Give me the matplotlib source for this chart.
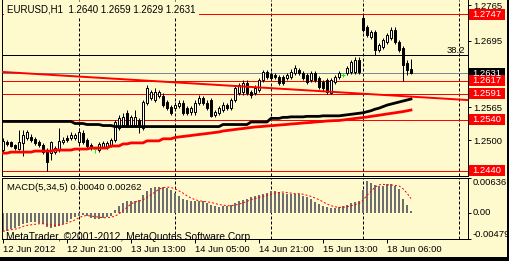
import matplotlib
matplotlib.use("Agg")
import matplotlib.pyplot as plt
from matplotlib.patches import Rectangle

plt.rcParams['font.family'] = ['Liberation Sans', 'DejaVu Sans']

BG = '#FFFACD'
W, H = 509, 261
FS = 6.8
LW = 0.72  # one pixel

# EURUSD H1 candles, bar 0 = 12 Jun 05:00
opens = [1.2481, 1.2497, 1.2497, 1.2491, 1.2483, 1.2495, 1.2505, 1.2507, 1.2503, 1.2497,
         1.2491, 1.2481, 1.2475, 1.2477, 1.2481, 1.2497, 1.2505, 1.2505, 1.2505, 1.2497,
         1.2514, 1.2501, 1.2491, 1.2483, 1.2481, 1.2487, 1.2487, 1.2491, 1.2501, 1.2524,
         1.2530, 1.2554, 1.2530, 1.2530, 1.2540, 1.2524, 1.2573, 1.2583, 1.2579, 1.2587,
         1.2587, 1.2575, 1.2565, 1.2563, 1.2567, 1.2573, 1.2563, 1.2555, 1.2555, 1.2573,
         1.2583, 1.2573, 1.2579, 1.2550, 1.2554, 1.2559, 1.2569, 1.2563, 1.2579, 1.2593,
         1.2595, 1.2612, 1.2595, 1.2593, 1.2599, 1.2618, 1.2634, 1.2630, 1.2628, 1.2624,
         1.2624, 1.2622, 1.2624, 1.2632, 1.2638, 1.2632, 1.2628, 1.2618, 1.2632, 1.2622,
         1.2614, 1.2618, 1.2593, 1.2614, 1.2624, 1.2628, 1.2632, 1.2634, 1.2634, 1.2657,
         1.2740, 1.2722, 1.2702, 1.2712, 1.2677, 1.2683, 1.2693, 1.2700, 1.2716, 1.2693,
         1.2681, 1.2651, 1.2640]
highs = [1.2505, 1.2501, 1.2499, 1.2493, 1.2520, 1.2520, 1.2520, 1.2512, 1.2507, 1.2501,
         1.2495, 1.2485, 1.2499, 1.2489, 1.2524, 1.2507, 1.2510, 1.2516, 1.2514, 1.2524,
         1.2520, 1.2505, 1.2495, 1.2487, 1.2497, 1.2499, 1.2499, 1.2505, 1.2540, 1.2550,
         1.2554, 1.2559, 1.2550, 1.2559, 1.2544, 1.2579, 1.2608, 1.2599, 1.2603, 1.2599,
         1.2593, 1.2579, 1.2569, 1.2575, 1.2579, 1.2579, 1.2567, 1.2567, 1.2579, 1.2589,
         1.2587, 1.2579, 1.2583, 1.2559, 1.2567, 1.2575, 1.2573, 1.2583, 1.2608, 1.2612,
         1.2618, 1.2618, 1.2599, 1.2608, 1.2622, 1.2638, 1.2638, 1.2634, 1.2632, 1.2628,
         1.2628, 1.2632, 1.2640, 1.2648, 1.2642, 1.2636, 1.2632, 1.2636, 1.2636, 1.2626,
         1.2618, 1.2622, 1.2622, 1.2628, 1.2636, 1.2632, 1.2646, 1.2657, 1.2663, 1.2663,
         1.2747, 1.2726, 1.2716, 1.2716, 1.2691, 1.2700, 1.2710, 1.2722, 1.2722, 1.2697,
         1.2685, 1.2657, 1.2659]
lows = [1.2477, 1.2489, 1.2487, 1.2481, 1.2481, 1.2469, 1.2501, 1.2497, 1.2491, 1.2487,
        1.2473, 1.2440, 1.2462, 1.2473, 1.2477, 1.2493, 1.2497, 1.2501, 1.2501, 1.2493,
        1.2493, 1.2485, 1.2481, 1.2475, 1.2477, 1.2485, 1.2483, 1.2487, 1.2497, 1.2520,
        1.2526, 1.2526, 1.2526, 1.2526, 1.2514, 1.2520, 1.2569, 1.2579, 1.2575, 1.2583,
        1.2565, 1.2559, 1.2550, 1.2559, 1.2563, 1.2550, 1.2550, 1.2550, 1.2550, 1.2569,
        1.2569, 1.2559, 1.2546, 1.2546, 1.2550, 1.2555, 1.2559, 1.2559, 1.2575, 1.2589,
        1.2589, 1.2589, 1.2583, 1.2589, 1.2595, 1.2614, 1.2620, 1.2618, 1.2620, 1.2608,
        1.2608, 1.2618, 1.2620, 1.2628, 1.2628, 1.2618, 1.2610, 1.2614, 1.2614, 1.2600,
        1.2597, 1.2591, 1.2591, 1.2610, 1.2620, 1.2624, 1.2628, 1.2630, 1.2630, 1.2630,
        1.2712, 1.2702, 1.2698, 1.2667, 1.2673, 1.2679, 1.2689, 1.2696, 1.2689, 1.2673,
        1.2617, 1.2628, 1.2629]
closes = [1.2499, 1.2493, 1.2489, 1.2485, 1.2497, 1.2510, 1.2516, 1.2501, 1.2495, 1.2491,
          1.2477, 1.2458, 1.2497, 1.2485, 1.2499, 1.2501, 1.2501, 1.2510, 1.2510, 1.2516,
          1.2497, 1.2489, 1.2485, 1.2483, 1.2493, 1.2495, 1.2495, 1.2501, 1.2536, 1.2544,
          1.2546, 1.2530, 1.2546, 1.2546, 1.2526, 1.2575, 1.2603, 1.2595, 1.2595, 1.2595,
          1.2569, 1.2563, 1.2554, 1.2569, 1.2573, 1.2554, 1.2554, 1.2563, 1.2573, 1.2583,
          1.2573, 1.2563, 1.2548, 1.2555, 1.2563, 1.2569, 1.2563, 1.2579, 1.2603, 1.2608,
          1.2612, 1.2593, 1.2589, 1.2603, 1.2618, 1.2634, 1.2624, 1.2622, 1.2624, 1.2612,
          1.2612, 1.2628, 1.2634, 1.2642, 1.2632, 1.2622, 1.2614, 1.2632, 1.2618, 1.2604,
          1.2603, 1.2595, 1.2618, 1.2624, 1.2632, 1.2628, 1.2642, 1.2653, 1.2657, 1.2634,
          1.2716, 1.2706, 1.2712, 1.2677, 1.2687, 1.2696, 1.2706, 1.2716, 1.2693, 1.2677,
          1.2648, 1.2638, 1.2631]

# moving averages (black = slow, red = fast)
ma_slow = [1.2537, 1.2537, 1.2537, 1.2537, 1.2537, 1.2537, 1.2537, 1.2537, 1.2537, 1.2537,
           1.2537, 1.2537, 1.2537, 1.2537, 1.2537, 1.2537, 1.2537, 1.2537, 1.2533, 1.2533,
           1.2533, 1.2531, 1.2531, 1.2531, 1.2531, 1.2529, 1.2529, 1.2529, 1.2527, 1.2527,
           1.2527, 1.2527, 1.2527, 1.2527, 1.2527, 1.2527, 1.2527, 1.2527, 1.2527, 1.2527,
           1.2527, 1.2527, 1.2527, 1.2527, 1.2527, 1.2527, 1.2527, 1.2527, 1.2527, 1.2527,
           1.2527, 1.2527, 1.2527, 1.2527, 1.2527, 1.2531, 1.2531, 1.2531, 1.2531, 1.2531,
           1.2531, 1.2531, 1.2536, 1.2536, 1.2536, 1.2536, 1.2536, 1.2543, 1.2543, 1.2543,
           1.2545, 1.2545, 1.2546, 1.2546, 1.2546, 1.2546, 1.2547, 1.2547, 1.2547, 1.2547,
           1.2548, 1.2548, 1.2548, 1.2548, 1.2548, 1.2549, 1.2550, 1.2551, 1.2552, 1.2553,
           1.2554, 1.2556, 1.2558, 1.2561, 1.2563, 1.2566, 1.2569, 1.2571, 1.2573, 1.2575,
           1.2577, 1.2579, 1.2581]
ma_fast = [1.2475, 1.2475, 1.2477, 1.2477, 1.2477, 1.2477, 1.2477, 1.2477, 1.2479, 1.2479,
           1.2479, 1.2479, 1.2479, 1.2481, 1.2481, 1.2481, 1.2481, 1.2481, 1.2483, 1.2483,
           1.2483, 1.2483, 1.2485, 1.2485, 1.2485, 1.2485, 1.2485, 1.2489, 1.2489, 1.2489,
           1.2493, 1.2493, 1.2495, 1.2495, 1.2495, 1.2495, 1.2499, 1.2499, 1.2499, 1.2499,
           1.2503, 1.2503, 1.2503, 1.25056, 1.25066, 1.25076, 1.25085, 1.25095, 1.25105, 1.25115,
           1.25124, 1.25134, 1.25144, 1.25154, 1.25164, 1.25183, 1.25193, 1.25203, 1.25213, 1.25223,
           1.25232, 1.25242, 1.25252, 1.25262, 1.25267, 1.25273, 1.25281, 1.25287, 1.25293, 1.25300,
           1.25306, 1.25312, 1.25320, 1.25326, 1.25332, 1.25340, 1.25345, 1.25351, 1.25359, 1.25365,
           1.25371, 1.25379, 1.25383, 1.25387, 1.25389, 1.25398, 1.25408, 1.25418, 1.25428, 1.25437,
           1.25447, 1.25457, 1.25469, 1.25481, 1.25492, 1.25504, 1.25516, 1.25528, 1.25539, 1.25551,
           1.25563, 1.25578, 1.25594]

# MACD(5,34,5) in units of 0.0001
macd_main = [-34, -33, -30, -27, -24, -20, -18, -17, -17, -18,
             -21, -26, -27, -26, -24, -20, -16, -12, -8, -5,
             -4, -6, -9, -11, -11, -10, -8, -6, 6, 12,
             18, 21, 21, 21, 24, 33, 39, 45, 48, 48,
             48, 45, 42, 36, 30, 26, 23, 21, 21, 21,
             21, 18, 15, 12, 11, 12, 13, 15, 18, 21,
             23, 26, 28, 30, 32, 34, 37, 39, 39, 38,
             36, 35, 35, 35, 34, 31, 28, 25, 20, 16,
             13, 10, 9, 9, 11, 13, 15, 17, 19, 21,
             42, 58, 55, 50, 49, 49, 52, 52, 49, 43,
             25, 14, 4]
macd_signal = [-34, -32, -31, -30, -28, -25, -23, -22, -21, -20,
               -20, -21, -22, -23, -22, -21, -19, -16, -13, -9,
               -6, -5, -6, -7, -8, -9, -9, -8, -6, -2,
               4, 10, 16, 20, 21, 24, 28, 33, 38, 43,
               46, 47, 46, 44, 40, 36, 31, 27, 24, 22,
               21, 20, 19, 17, 15, 14, 13, 13, 14, 16,
               18, 21, 24, 26, 28, 30, 32, 34, 36, 37,
               38, 37, 36, 35, 35, 34, 32, 30, 27, 24,
               20, 16, 13, 11, 10, 10, 11, 13, 15, 17,
               23, 32, 39, 47, 51, 52, 51, 51, 50, 49,
               44, 36, 26]

red_levels = [1.2747, 1.2617, 1.2591, 1.2540, 1.2440]
fib_level = 1.2667
bid = 1.2631
trend_x = [-0.25, 116.0]
trend_y = [1.2634, 1.2579]
day_breaks = [19, 43, 67, 90, 114]
price_ticks = [1.2765, 1.2695, 1.2565, 1.2500]
macd_ticks = [0.00636, 0.0, -0.00479]
time_ticks = [0, 16, 32, 48, 64, 80, 96]
time_labels = ['12 Jun 2012', '12 Jun 21:00', '13 Jun 13:00', '14 Jun 05:00',
               '14 Jun 21:00', '15 Jun 13:00', '18 Jun 06:00']

idx = list(range(len(closes)))


def frame(x0, y0, x1, y1):
    return [x0 / W, 1 - y1 / H, (x1 - x0) / W, (y1 - y0) / H]


fig = plt.figure(figsize=(W / 100, H / 100), dpi=100, facecolor=BG)
ax = fig.add_axes(frame(2, 0, 468, 176), facecolor=BG)
ax2 = fig.add_axes(frame(2, 178, 468, 239), facecolor=BG, sharex=ax)

ax.set_xlim(-0.25, 116.25)
ax.set_ylim(1.24302, 1.27748)
ax2.set_ylim(-0.00479, 0.00636)

# candles
up = [i for i in idx if closes[i] > opens[i]]
dn = [i for i in idx if closes[i] < opens[i]]
dj = [i for i in idx if closes[i] == opens[i]]
nd = up + dn
ax.vlines(nd, [lows[i] for i in nd], [highs[i] for i in nd], color='black', lw=LW, zorder=3)
ax.bar(up, [closes[i] - opens[i] for i in up], 0.5, bottom=[opens[i] for i in up],
       color='white', edgecolor='black', lw=LW, zorder=4)
ax.bar(dn, [opens[i] - closes[i] for i in dn], 0.5, bottom=[closes[i] for i in dn],
       color='black', edgecolor='black', lw=LW, zorder=4)
ax.vlines(dj, [lows[i] for i in dj], [highs[i] for i in dj], color='#00FF00', lw=LW, zorder=3)
ax.hlines([closes[i] for i in dj], [i - 0.5 for i in dj], [i + 0.5 for i in dj],
          color='#00FF00', lw=LW, zorder=3)

# indicators and objects
ax.plot(idx, ma_slow, color='black', lw=2.0, zorder=5)
ax.plot(idx, ma_fast, color='red', lw=2.0, zorder=5)
ax.plot(trend_x, trend_y, color='red', lw=1.4, zorder=5)
for lv in red_levels:
    ax.axhline(lv, color='red', lw=LW, zorder=2)
ax.axhline(fib_level, color='black', lw=LW, zorder=2)
ax.axhline(bid, color='#778899', lw=LW, zorder=2)
ax.text(115.5, fib_level, '38.2', ha='right', va='bottom', fontsize=FS, zorder=6)
for d in day_breaks:
    for a in (ax, ax2):
        a.axvline(d, color='black', lw=LW, dashes=(3, 2), zorder=1)

ax.text(0.011, 0.945, 'EURUSD,H1  1.2640 1.2659 1.2629 1.2631', transform=ax.transAxes,
        fontsize=FS + 0.2, va='center', ha='left', zorder=8,
        bbox=dict(boxstyle='square,pad=0.3', fc=BG, ec='none'))

# right axis
ax.yaxis.tick_right()
ax.set_yticks(price_ticks)
ax.set_yticklabels([f'{v:.4f}' for v in price_ticks])
ax.tick_params(axis='y', direction='out', length=2.2, width=LW, pad=1.5, labelsize=FS)
ax.tick_params(axis='x', bottom=False, labelbottom=False)
ax.spines['top'].set_visible(False)
for s in ax.spines.values():
    s.set_linewidth(LW)


def tag(level, text, fc):
    h = 11 * (ax.get_ylim()[1] - ax.get_ylim()[0]) / 176
    ax.add_patch(Rectangle((1.0022, level - h / 2), 0.0773, h, transform=ax.get_yaxis_transform(),
                           fc=fc, ec='none', clip_on=False, zorder=10))
    ax.text(1.0086, level, text, transform=ax.get_yaxis_transform(), color='white',
            fontsize=FS, va='center', ha='left', clip_on=False, zorder=11)


tag(bid, f'{bid:.4f}', 'black')
for lv in red_levels:
    tag(lv, f'{lv:.4f}', 'red')

# MACD panel
ax2.bar(idx, [v * 1e-4 for v in macd_main], 0.72, color='#6E6E6E', zorder=2, antialiased=False)
ax2.plot(idx, [v * 1e-4 for v in macd_signal], color='red', lw=LW, dashes=(2, 2), zorder=3)
ax2.yaxis.tick_right()
ax2.set_yticks(macd_ticks)
ax2.set_yticklabels(['', '', ''])
ax2.tick_params(axis='y', direction='out', length=2.2, width=LW)
ax2.text(1.009, macd_ticks[0], '0.00636', transform=ax2.get_yaxis_transform(), fontsize=FS,
         va='top', ha='left')
ax2.text(1.009, macd_ticks[1], '0.00', transform=ax2.get_yaxis_transform(), fontsize=FS,
         va='center', ha='left')
ax2.text(1.009, macd_ticks[2], '-0.00479', transform=ax2.get_yaxis_transform(), fontsize=FS,
         va='bottom', ha='left')
ax2.set_xticks(time_ticks)
ax2.set_xticklabels(time_labels)
for lb in ax2.get_xticklabels():
    lb.set_ha('left')
ax2.tick_params(axis='x', direction='out', length=2.9, width=LW, pad=1.5, labelsize=FS)
for s in ax2.spines.values():
    s.set_linewidth(LW)

ax2.text(0.011, 0.84, 'MACD(5,34,5) 0.00040 0.00262', transform=ax2.transAxes,
         fontsize=FS, va='center', ha='left', zorder=6)
ax2.text(0.009, -0.01, 'MetaTrader, \u00a92001-2012, MetaQuotes Software Corp.',
         transform=ax2.transAxes, fontsize=7.4, va='baseline', ha='left', zorder=6, clip_on=False)

# window border
fig.add_artist(Rectangle((507 / W, 0), 2 / W, 1, transform=fig.transFigure, fc='black', ec='none'))
fig.add_artist(Rectangle((0, 0), 1, 4 / H, transform=fig.transFigure, fc='black', ec='none'))

fig.savefig('out.png', dpi=100, facecolor=BG)
